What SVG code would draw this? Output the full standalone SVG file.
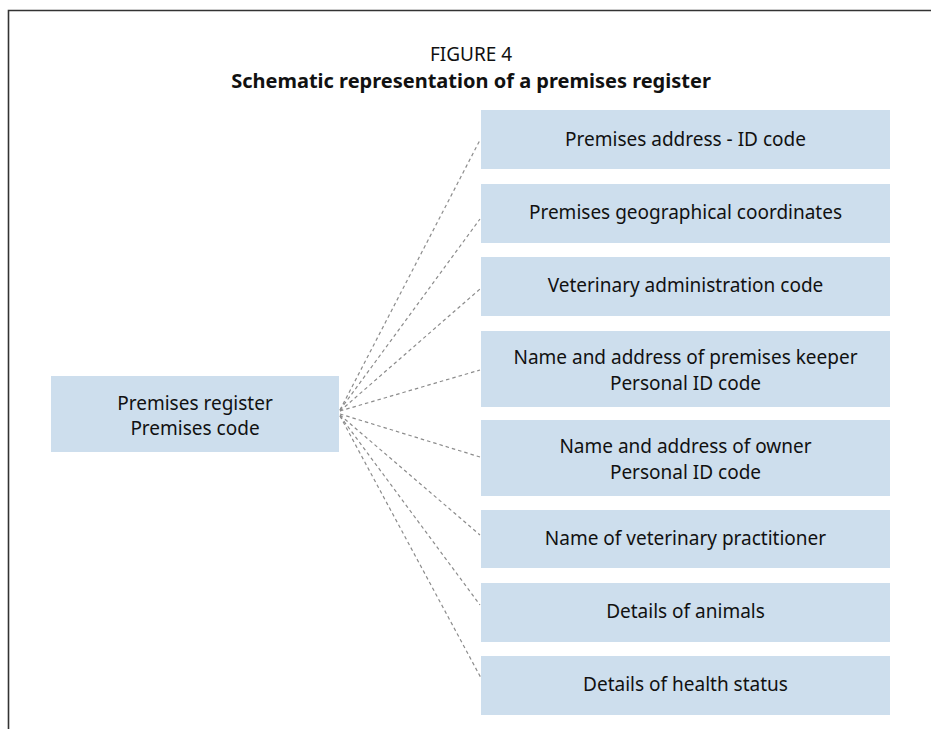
<svg xmlns="http://www.w3.org/2000/svg" width="931" height="729" viewBox="0 0 931 729">
<style>
.box{fill:#cddeed;}
.t{font-family:"Noto Sans","Open Sans","Liberation Sans",sans-serif;font-size:19px;fill:#111;text-anchor:middle;}
.b{font-size:20px;font-weight:bold;}
.c{stroke:#8c8c8c;stroke-width:1.2;stroke-dasharray:3.5,3;fill:none;}
</style>
<rect width="931" height="729" fill="#fff"/>
<path d="M8.5,729 V10.5 H931" fill="none" stroke="#333" stroke-width="1.6"/>
<g id="title">
<text class="t" x="471" y="61">FIGURE 4</text>
<text class="t b" x="471" y="88">Schematic representation of a premises register</text>
</g>
<g id="connectors">
<line class="c" x1="340" y1="410" x2="480" y2="140"/>
<line class="c" x1="340" y1="410" x2="480" y2="219"/>
<line class="c" x1="340" y1="411" x2="480" y2="289"/>
<line class="c" x1="340" y1="411" x2="480" y2="370"/>
<line class="c" x1="340" y1="414" x2="480" y2="457"/>
<line class="c" x1="340" y1="415" x2="480" y2="535"/>
<line class="c" x1="340" y1="416" x2="480" y2="605"/>
<line class="c" x1="340" y1="416" x2="481" y2="678"/>
</g>
<g id="register">
<rect class="box" x="51" y="376" width="288" height="76"/>
<text class="t" x="195" y="409.5">Premises register</text>
<text class="t" x="195" y="435">Premises code</text>
</g>
<g id="n1">
<rect class="box" x="481" y="110" width="409" height="59"/>
<text class="t" x="685.5" y="146">Premises address - ID code</text>
</g>
<g id="n2">
<rect class="box" x="481" y="184" width="409" height="59"/>
<text class="t" x="685.5" y="219">Premises geographical coordinates</text>
</g>
<g id="n3">
<rect class="box" x="481" y="257" width="409" height="59"/>
<text class="t" x="685.5" y="292">Veterinary administration code</text>
</g>
<g id="n4">
<rect class="box" x="481" y="331" width="409" height="76"/>
<text class="t" x="685.5" y="364">Name and address of premises keeper</text>
<text class="t" x="685.5" y="389.5">Personal ID code</text>
</g>
<g id="n5">
<rect class="box" x="481" y="420" width="409" height="76"/>
<text class="t" x="685.5" y="453">Name and address of owner</text>
<text class="t" x="685.5" y="478.5">Personal ID code</text>
</g>
<g id="n6">
<rect class="box" x="481" y="510" width="409" height="58"/>
<text class="t" x="685.5" y="545">Name of veterinary practitioner</text>
</g>
<g id="n7">
<rect class="box" x="481" y="583" width="409" height="59"/>
<text class="t" x="685.5" y="618">Details of animals</text>
</g>
<g id="n8">
<rect class="box" x="481" y="656" width="409" height="59"/>
<text class="t" x="685.5" y="691">Details of health status</text>
</g>
</svg>
